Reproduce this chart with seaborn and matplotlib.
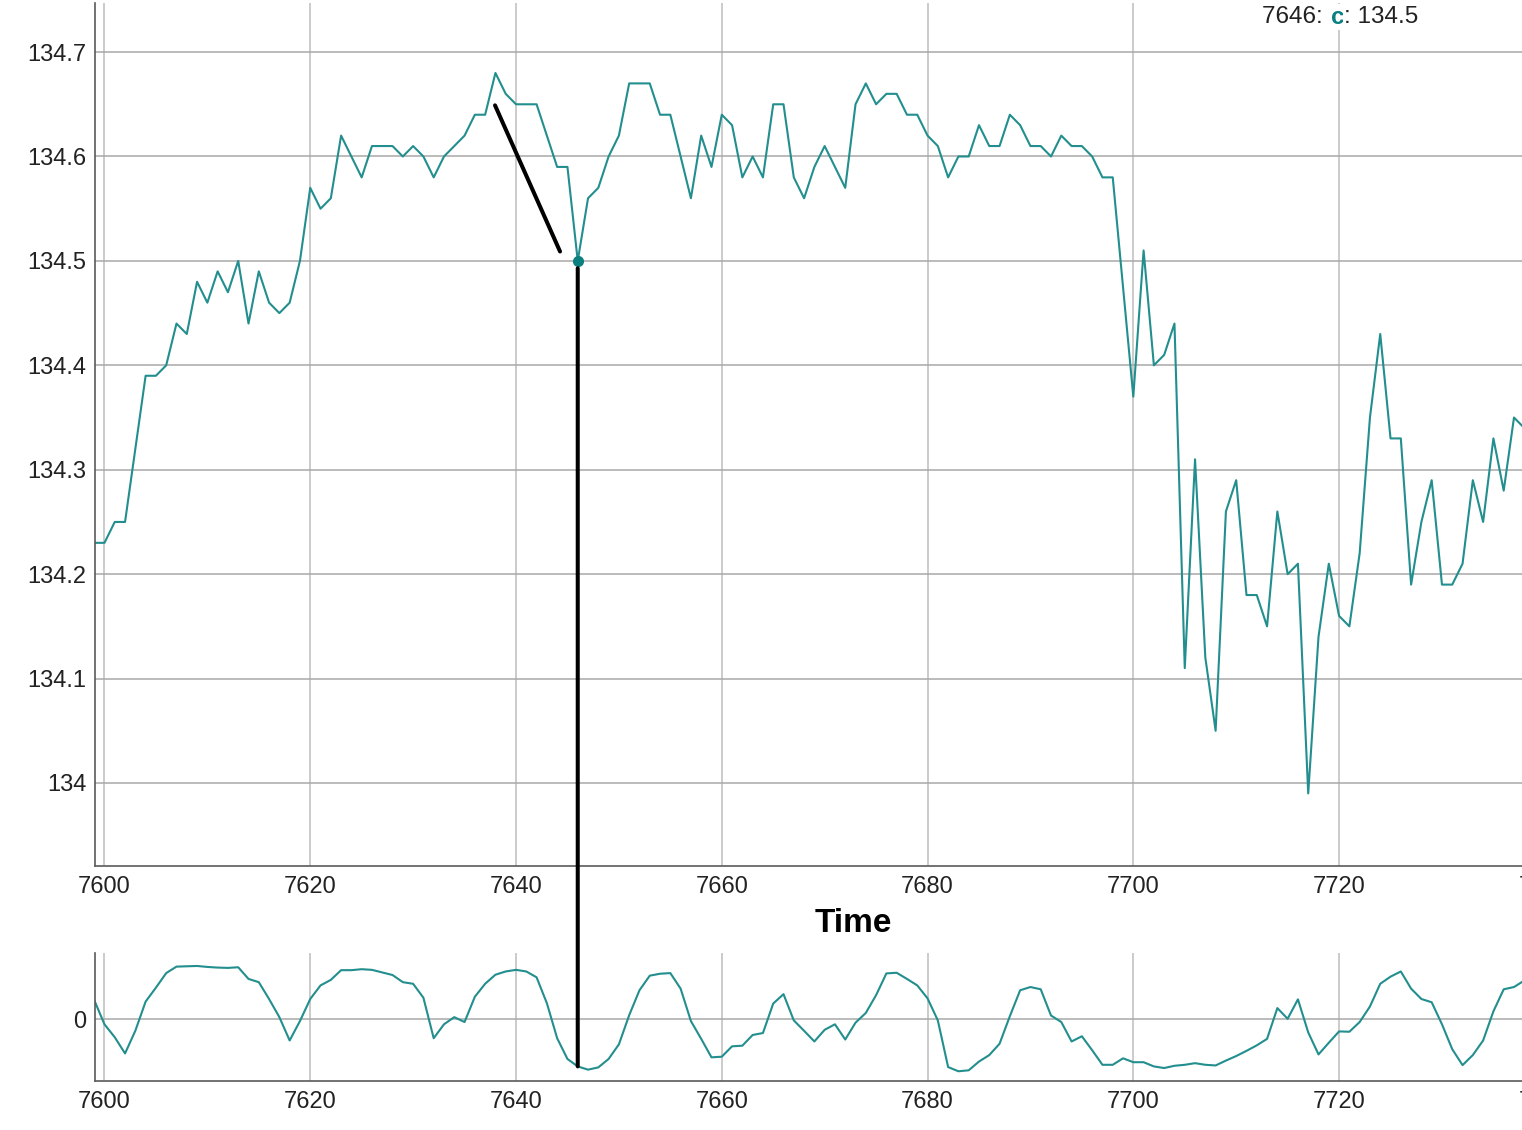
import numpy as np
import pandas as pd
import seaborn as sns
import matplotlib.pyplot as plt
from matplotlib.patches import ConnectionPatch
from matplotlib.ticker import FuncFormatter, FixedLocator

# --- dados ---
time_idx = list(range(7599, 7739))

close = [
    134.23, 134.23, 134.25, 134.25, 134.32, 134.39, 134.39, 134.40, 134.44, 134.43,
    134.48, 134.46, 134.49, 134.47, 134.50, 134.44, 134.49, 134.46, 134.45, 134.46,
    134.50, 134.57, 134.55, 134.56, 134.62, 134.60, 134.58, 134.61, 134.61, 134.61,
    134.60, 134.61, 134.60, 134.58, 134.60, 134.61, 134.62, 134.64, 134.64, 134.68,
    134.66, 134.65, 134.65, 134.65, 134.62, 134.59, 134.59, 134.50, 134.56, 134.57,
    134.60, 134.62, 134.67, 134.67, 134.67, 134.64, 134.64, 134.60, 134.56, 134.62,
    134.59, 134.64, 134.63, 134.58, 134.60, 134.58, 134.65, 134.65, 134.58, 134.56,
    134.59, 134.61, 134.59, 134.57, 134.65, 134.67, 134.65, 134.66, 134.66, 134.64,
    134.64, 134.62, 134.61, 134.58, 134.60, 134.60, 134.63, 134.61, 134.61, 134.64,
    134.63, 134.61, 134.61, 134.60, 134.62, 134.61, 134.61, 134.60, 134.58, 134.58,
    134.475, 134.37, 134.51, 134.40, 134.41, 134.44, 134.11, 134.31, 134.12, 134.05,
    134.26, 134.29, 134.18, 134.18, 134.15, 134.26, 134.20, 134.21, 133.99, 134.14,
    134.21, 134.16, 134.15, 134.22, 134.35, 134.43, 134.33, 134.33, 134.19, 134.25,
    134.29, 134.19, 134.19, 134.21, 134.29, 134.25, 134.33, 134.28, 134.35, 134.34,
]

oscillator = [
    0.60, -0.15, -0.55, -1.05, -0.35, 0.55, 0.98, 1.43, 1.63, 1.64,
    1.65, 1.62, 1.60, 1.59, 1.61, 1.25, 1.15, 0.63, 0.07, -0.65,
    -0.05, 0.63, 1.05, 1.22, 1.52, 1.52, 1.55, 1.53, 1.45, 1.37,
    1.15, 1.10, 0.67, -0.58, -0.15, 0.07, -0.08, 0.70, 1.10, 1.38,
    1.48, 1.53, 1.48, 1.30, 0.50, -0.58, -1.22, -1.45, -1.55, -1.48,
    -1.22, -0.77, 0.13, 0.90, 1.35, 1.41, 1.43, 0.95, -0.05, -0.60,
    -1.17, -1.15, -0.83, -0.81, -0.48, -0.42, 0.49, 0.78, -0.03, -0.35,
    -0.68, -0.32, -0.15, -0.62, -0.10, 0.20, 0.75, 1.42, 1.44, 1.25,
    1.05, 0.65, -0.03, -1.47, -1.60, -1.57, -1.30, -1.10, -0.75, 0.10,
    0.90, 1.00, 0.93, 0.12, -0.08, -0.68, -0.52, -0.95, -1.40, -1.40,
    -1.20, -1.32, -1.32, -1.45, -1.50, -1.43, -1.40, -1.35, -1.40, -1.42,
    -1.27, -1.13, -0.97, -0.80, -0.60, 0.35, 0.02, 0.62, -0.40, -1.08,
    -0.72, -0.37, -0.38, -0.08, 0.40, 1.10, 1.32, 1.48, 0.95, 0.63,
    0.53, -0.15, -0.92, -1.41, -1.10, -0.65, 0.25, 0.93, 1.00, 1.20,
]

x_ticks = [7600, 7620, 7640, 7660, 7680, 7700, 7720, 7740]
price_ticks = [134.0, 134.1, 134.2, 134.3, 134.4, 134.5, 134.6, 134.7]
osc_ticks = [0]

# ponto destacado (tooltip) e traço desenhado à mão
focus_t = 7646
trend_start = (7637.96, 134.649)
trend_end = (7644.28, 134.509)

df = pd.DataFrame({"t": time_idx, "c": close, "osc": oscillator})

# --- estilo ---
sns.set_theme(style="whitegrid")
plt.rcParams["font.family"] = ["Liberation Sans", "DejaVu Sans"]

TEAL = "#238e8e"
GRID_H = "#a8a8a8"
GRID_V = "#bdbdbd"
SPINE = "#5a5a5a"
XLIM = (7599.08, 7740.5)

fig = plt.figure(figsize=(15.22, 11.30), dpi=100)
W, H = 1522, 1130


def px_axes(left, top, right, bottom):
    return fig.add_axes([left / W, 1 - bottom / H, (right - left) / W, (bottom - top) / H])


ax = px_axes(95, 3, 1550, 866)
ax2 = px_axes(95, 953, 1550, 1081)

for a in (ax, ax2):
    a.set_facecolor("white")
    a.set_xlim(*XLIM)
    a.xaxis.set_major_locator(FixedLocator(x_ticks))
    a.grid(True, axis="x", color=GRID_V, lw=1.1)
    a.grid(True, axis="y", color=GRID_H, lw=1.1)
    for s in ("top", "right"):
        a.spines[s].set_visible(False)
    for s in ("left", "bottom"):
        a.spines[s].set_color(SPINE)
        a.spines[s].set_linewidth(1.2)
    a.tick_params(axis="both", length=0, labelsize=17, colors="#222222")
    a.tick_params(axis="x", pad=7.5)
    a.tick_params(axis="y", pad=6)
    a.set_ylabel("")

# painel superior: preço
sns.lineplot(data=df, x="t", y="c", ax=ax, color=TEAL, lw=1.5)
ax.set_ylim(133.9205, 134.747)
ax.yaxis.set_major_locator(FixedLocator(price_ticks))
ax.yaxis.set_major_formatter(FuncFormatter(lambda v, p: f"{v:g}"))
ax.set_ylabel("")
ax.set_xlabel("Time", fontsize=24, fontweight="bold", color="black")
ax.xaxis.set_label_coords((853 - 95) / 1455, (866 - 923) / 863)
ax.xaxis.label.set_va("center")

focus_c = df.loc[df["t"] == focus_t, "c"].iloc[0]
focus_o = df.loc[df["t"] == focus_t, "osc"].iloc[0]
ax.plot([focus_t], [focus_c], "o", color="#0a8080", ms=7, zorder=5)

# traço inclinado
ax.plot([trend_start[0], trend_end[0]], [trend_start[1], trend_end[1]],
        color="black", lw=2.9, solid_capstyle="round", zorder=6)

# painel inferior: oscilador
sns.lineplot(data=df, x="t", y="osc", ax=ax2, color=TEAL, lw=1.5)
ax2.set_ylim(-1.90, 2.05)
ax2.yaxis.set_major_locator(FixedLocator(osc_ticks))
ax2.yaxis.set_major_formatter(FuncFormatter(lambda v, p: f"{v:g}"))
ax2.set_ylabel("")
ax2.set_xlabel("")

# linha vertical ligando os dois painéis
con = ConnectionPatch(xyA=(focus_t, focus_c - 0.007), coordsA=ax.transData,
                      xyB=(focus_t, focus_o), coordsB=ax2.transData,
                      color="black", lw=2.9, zorder=10)
fig.add_artist(con)

# tooltip
y_tip = 1 - 17 / H
box = dict(facecolor="white", edgecolor="none", pad=1.0)
t1 = fig.text(1262 / W, y_tip, "7646: ", fontsize=17.5, color="#222222",
              va="center", ha="left", bbox=box)
t2 = fig.text(0, 0, "c", fontsize=17.5, fontweight="bold", color="#0a8080",
              va="center", ha="left", bbox=box)
t3 = fig.text(0, 0, f": {focus_c:g}", fontsize=17.5, color="#222222",
              va="center", ha="left", bbox=box)

renderer = fig.canvas.get_renderer()
inv = fig.transFigure.inverted()
bb1 = t1.get_window_extent(renderer)
t2.set_position((inv.transform((bb1.x1 + 1, 0))[0], y_tip))
bb2 = t2.get_window_extent(renderer)
t3.set_position((inv.transform((bb2.x1, 0))[0], y_tip))

fig.savefig("out.png", dpi=100, facecolor="white")
